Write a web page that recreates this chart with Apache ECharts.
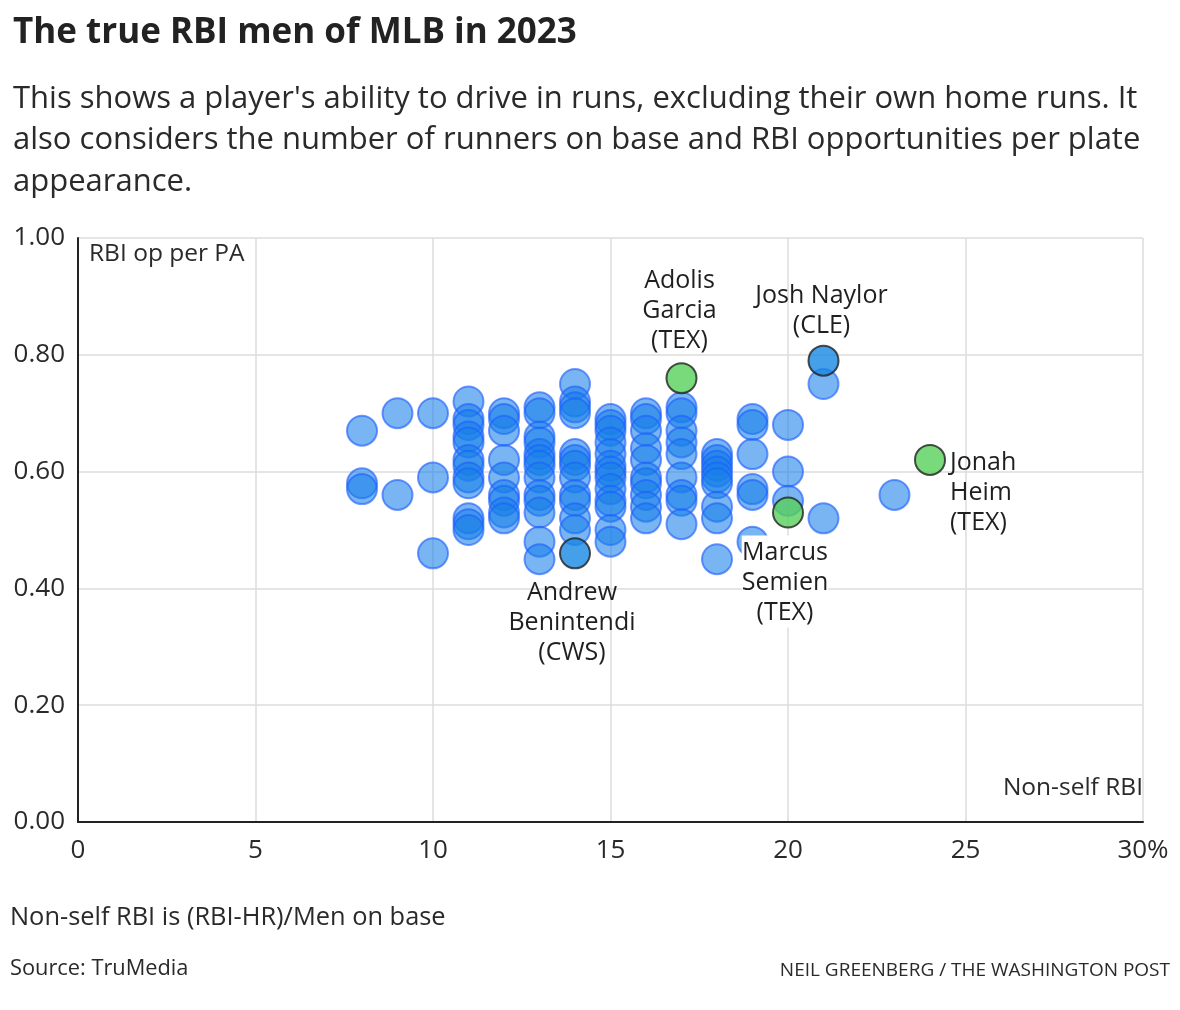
<!DOCTYPE html>
<html>
<head>
<meta charset="utf-8">
<script src="https://cdn.jsdelivr.net/npm/echarts@6/dist/echarts.min.js"></script>
<style>
html,body{margin:0;padding:0;background:#fff;}
#chart{width:1180px;height:1010px;}
</style>
</head>
<body>
<div id="chart"></div>
<script>
// Non-self RBI (%) for each player
const xValues = [
  8,8,8,
  9,9,
  10,10,10,
  11,11,11,11,11,11,11,11,11,11,11,11,
  12,12,12,12,12,12,12,12,12,
  13,13,13,13,13,13,13,13,13,13,13,13,13,
  14,14,14,14,14,14,14,14,14,14,14,14,
  15,15,15,15,15,15,15,15,15,15,15,15,15,
  16,16,16,16,16,16,16,16,16,16,
  17,17,17,17,17,17,17,17,17,
  18,18,18,18,18,18,18,18,18,
  19,19,19,19,19,19,
  20,20,20,
  21,21,
  23
];
// RBI opportunities per plate appearance
const yValues = [
  0.67,0.58,0.57,
  0.70,0.56,
  0.70,0.59,0.46,
  0.72,0.69,0.68,0.66,0.65,0.62,0.61,0.59,0.58,0.52,0.51,0.50,
  0.70,0.69,0.67,0.62,0.59,0.56,0.55,0.53,0.52,
  0.71,0.70,0.66,0.65,0.63,0.62,0.61,0.59,0.56,0.55,0.53,0.48,0.45,
  0.75,0.72,0.71,0.70,0.63,0.62,0.61,0.59,0.56,0.55,0.52,0.50,
  0.69,0.68,0.67,0.65,0.63,0.61,0.60,0.59,0.57,0.55,0.54,0.50,0.48,
  0.70,0.69,0.67,0.64,0.62,0.59,0.58,0.56,0.54,0.52,
  0.71,0.70,0.67,0.65,0.63,0.59,0.56,0.55,0.51,
  0.63,0.62,0.61,0.60,0.59,0.58,0.54,0.52,0.45,
  0.69,0.68,0.63,0.57,0.56,0.48,
  0.68,0.60,0.55,
  0.75,0.52,
  0.56
];
// Highlighted players
const hlNames = ['Adolis\nGarcia\n(TEX)', 'Josh Naylor\n(CLE)', 'Jonah\nHeim\n(TEX)', 'Marcus\nSemien\n(TEX)', 'Andrew\nBenintendi\n(CWS)'];
const hlX = [17, 21, 24, 20, 14];
const hlY = [0.76, 0.79, 0.62, 0.53, 0.46];
const hlTeamTex = [true, false, true, true, false];

const xTicks = [0, 5, 10, 15, 20, 25, 30];
const yTicks = [0, 0.2, 0.4, 0.6, 0.8, 1.0];

const FONT = '"Open Sans", Roboto, sans-serif';

const mainData = xValues.map((x, i) => [x, yValues[i]]);

const labelPos = [
  {position: 'top', distance: 6, align: 'center', offset: [-2, 0]},
  {position: 'top', distance: 4, align: 'center', offset: [-2, 0]},
  {position: 'right', distance: 4, align: 'left', offset: [0, 33]},
  {position: 'bottom', distance: 7, align: 'center', offset: [-3, 0]},
  {position: 'bottom', distance: 9, align: 'center', offset: [-3, 0]}
];

const hlData = hlX.map((x, i) => ({
  value: [x, hlY[i]],
  name: hlNames[i],
  itemStyle: {
    color: hlTeamTex[i] ? '#58d15a' : '#1787e4',
    borderColor: '#222',
    borderWidth: 2
  },
  label: Object.assign({
    show: true,
    formatter: '{b}',
    fontSize: 25,
    lineHeight: 30,
    color: '#1f1f1f',
    opacity: 1,
    textBorderWidth: 0,
    fontFamily: FONT,
    backgroundColor: i === 3 ? '#fff' : 'transparent',
    padding: i === 3 ? [2, 0, 0, 0] : 0
  }, labelPos[i])
}));

const chart = echarts.init(document.getElementById('chart'));
chart.setOption({
  animation: false,
  backgroundColor: '#fff',
  title: {
    text: 'The true RBI men of MLB in 2023',
    subtext: "This shows a player's ability to drive in runs, excluding their own home runs. It\nalso considers the number of runners on base and RBI opportunities per plate\nappearance.",
    left: 8,
    top: 11,
    itemGap: 27,
    textStyle: {fontFamily: FONT, fontSize: 35, fontWeight: 'bold', color: '#222'},
    subtextStyle: {fontFamily: FONT, fontSize: 31, lineHeight: 41.5, color: '#2a2a2a'}
  },
  grid: {left: 78, right: 37, top: 238, bottom: 188, containLabel: false},
  xAxis: {
    type: 'value',
    min: xTicks[0],
    max: xTicks[xTicks.length - 1],
    interval: 5,
    axisLine: {show: true, onZero: false, lineStyle: {color: '#222', width: 2}},
    axisTick: {show: false},
    splitLine: {show: true, lineStyle: {color: '#ddd', width: 1.5}},
    axisLabel: {
      fontFamily: FONT, fontSize: 26, color: '#2a2a2a', margin: 16,
      formatter: v => v === 30 ? '30%' : String(v)
    }
  },
  yAxis: {
    type: 'value',
    min: yTicks[0],
    max: yTicks[yTicks.length - 1],
    interval: 0.2,
    axisLine: {show: true, onZero: false, lineStyle: {color: '#222', width: 2}},
    axisTick: {show: false},
    splitLine: {show: true, lineStyle: {color: '#ddd', width: 1.5}},
    axisLabel: {
      fontFamily: FONT, fontSize: 26, color: '#2a2a2a', margin: 13,
      formatter: v => v.toFixed(2)
    }
  },
  graphic: [
    {type: 'text', left: 89, top: 242, style: {text: 'RBI op per PA', font: '24.5px ' + FONT, fill: '#2a2a2a'}},
    {type: 'text', right: 37, top: 776, style: {text: 'Non-self RBI', font: '24.5px ' + FONT, fill: '#2a2a2a'}},
    {type: 'text', left: 10, top: 905, style: {text: 'Non-self RBI is (RBI-HR)/Men on base', font: '25.4px ' + FONT, fill: '#2a2a2a'}},
    {type: 'text', left: 10, top: 958, style: {text: 'Source: TruMedia', font: '21.8px ' + FONT, fill: '#2a2a2a'}},
    {type: 'text', right: 10, top: 961, style: {text: 'NEIL GREENBERG / THE WASHINGTON POST', font: '19px ' + FONT, fill: '#2a2a2a'}}
  ],
  series: [
    {
      type: 'scatter',
      data: mainData,
      symbolSize: 30,
      itemStyle: {color: 'rgba(22,126,232,0.72)', borderColor: 'rgba(32,96,255,0.8)', borderWidth: 2},
      emphasis: {disabled: true},
      z: 2
    },
    {
      type: 'scatter',
      data: hlData,
      symbolSize: 30,
      emphasis: {disabled: true},
      z: 3
    }
  ]
});
</script>
</body>
</html>
